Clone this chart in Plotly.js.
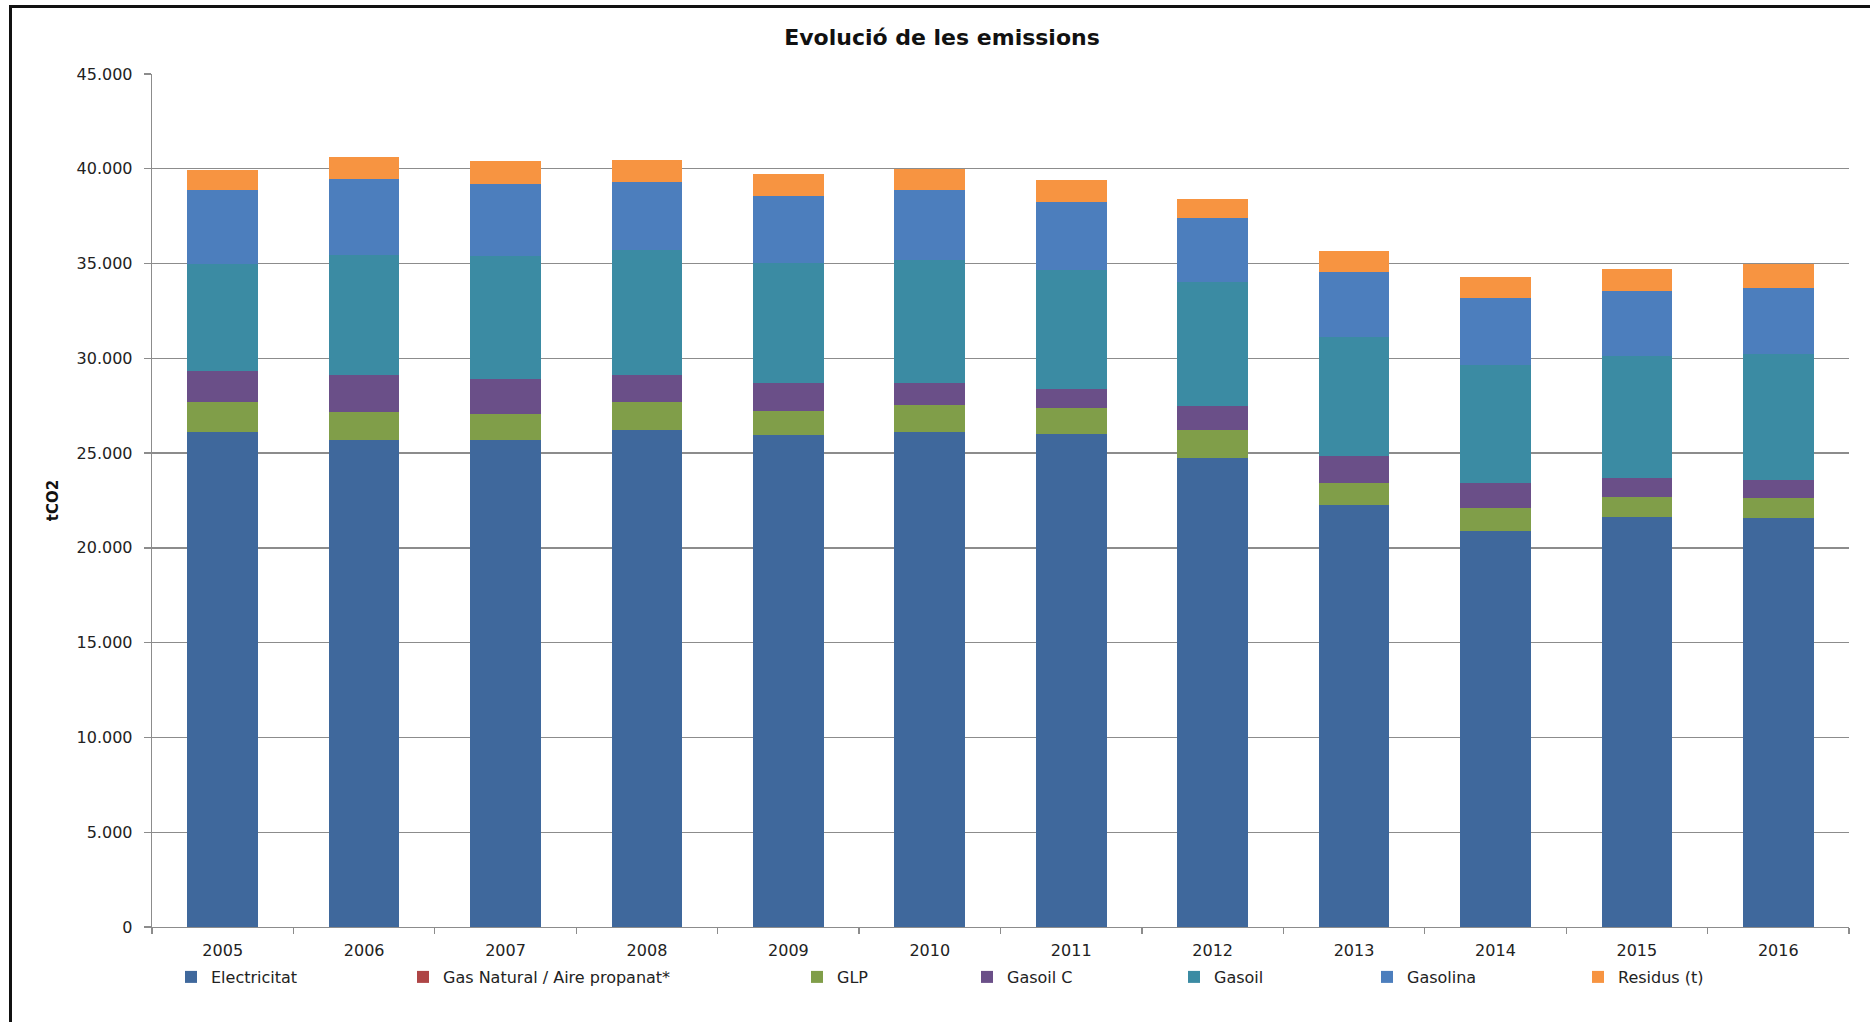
<!DOCTYPE html>
<html>
<head>
<meta charset="utf-8">
<script src="https://cdn.plot.ly/plotly-3.0.1.min.js"></script>
<style>
  html, body { margin: 0; padding: 0; background: #ffffff; overflow: hidden; }
  #frame { position: absolute; left: 9px; top: 5px; width: 1900px; height: 1100px; border: 3px solid #111; box-sizing: border-box; pointer-events: none; z-index: 5; }
  #chart { position: absolute; left: 0; top: 0; width: 1870px; height: 1022px; }
</style>
</head>
<body>
<div id="chart"></div>
<div id="frame"></div>
<script>
// Categories
const years = ['2005','2006','2007','2008','2009','2010','2011','2012','2013','2014','2015','2016'];

// Series values (tCO2)
const electricitat = [26140, 25690, 25690, 26230, 25930, 26130, 25990, 24750, 22270, 20880, 21650, 21560];
const gasNatural   = [0, 0, 0, 0, 0, 0, 0, 0, 0, 0, 0, 0];
const glp          = [1550, 1460, 1390, 1460, 1300, 1430, 1390, 1480, 1140, 1230, 1050, 1070];
const gasoilC      = [1620, 1990, 1830, 1440, 1460, 1140, 1000, 1230, 1460, 1320, 970, 950];
const gasoil       = [5670, 6290, 6480, 6600, 6340, 6510, 6300, 6550, 6270, 6240, 6460, 6640];
const gasolina     = [3890, 4050, 3790, 3570, 3520, 3650, 3570, 3380, 3390, 3500, 3430, 3480];
const residus      = [1090, 1160, 1230, 1180, 1160, 1110, 1140, 1000, 1110, 1110, 1140, 1300];

// Series names and colours
const seriesNames  = ['Electricitat', 'Gas Natural / Aire propanat*', 'GLP', 'Gasoil C', 'Gasoil', 'Gasolina', 'Residus (t)'];
const seriesValues = [electricitat, gasNatural, glp, gasoilC, gasoil, gasolina, residus];
const seriesColors = ['#3F689C', '#AE4546', '#809E49', '#6A4F88', '#3B8BA3', '#4C7EBD', '#F79441'];

// Legend marker centres (px in page)
const legendMarkerPx = [191, 423, 817, 987, 1194, 1387, 1598];

const W = 1870, H = 1022;
const mL = 152, mR = 21, mT = 74, mB = 95;
const plotW = W - mL - mR, plotH = H - mT - mB;

const traces = seriesNames.map((name, i) => ({
  type: 'bar',
  name: name,
  x: years,
  y: seriesValues[i],
  marker: { color: seriesColors[i], line: { width: 0 } },
  legend: i === 0 ? 'legend' : 'legend' + (i + 1),
  showlegend: true,
  hoverinfo: 'x+y+name'
}));

const legendFont = { family: 'DejaVu Sans, sans-serif', size: 16, color: '#222' };
const layout = {
  width: W, height: H,
  showlegend: true,
  margin: { l: mL, r: mR, t: mT, b: mB, pad: 0 },
  paper_bgcolor: '#ffffff',
  plot_bgcolor: '#ffffff',
  barmode: 'stack',
  bargap: 0.5,
  separators: ',.',
  font: { family: 'DejaVu Sans, sans-serif', size: 16, color: '#222' },
  title: {
    text: 'Evolució de les emissions',
    font: { family: 'DejaVu Sans, sans-serif', size: 22, color: '#111', weight: 'bold' },
    xref: 'container', yref: 'container',
    x: 942 / W, xanchor: 'center',
    y: 1 - 37 / H, yanchor: 'middle'
  },
  xaxis: {
    type: 'category',
    tickson: 'boundaries',
    ticks: 'outside', ticklen: 6, tickcolor: '#8c8c8c', tickwidth: 1.3,
    showline: true, linecolor: '#8c8c8c', linewidth: 1.3,
    showgrid: false,
    tickfont: { family: 'DejaVu Sans, sans-serif', size: 16, color: '#222' },
    ticklabelstandoff: 8,
    fixedrange: true
  },
  yaxis: {
    range: [0, 45000],
    tickvals: [0, 5000, 10000, 15000, 20000, 25000, 30000, 35000, 40000, 45000],
    tickformat: ',d',
    ticks: 'outside', ticklen: 7, tickcolor: '#8c8c8c', tickwidth: 1.3,
    showline: true, linecolor: '#8c8c8c', linewidth: 1.3,
    showgrid: true, gridcolor: '#8c8c8c', gridwidth: 1.3,
    zeroline: false,
    tickfont: { family: 'DejaVu Sans, sans-serif', size: 16, color: '#222' },
    ticklabelstandoff: 8,
    title: {
      text: 'tCO2',
      font: { family: 'DejaVu Sans, sans-serif', size: 15, color: '#111', weight: 'bold' },
      standoff: 14
    },
    fixedrange: true
  }
};

// One small legend per series, each placed where the reference puts it (y = 977 px from top)
legendMarkerPx.forEach((px, i) => {
  const key = i === 0 ? 'legend' : 'legend' + (i + 1);
  layout[key] = {
    visible: true,
    orientation: 'h',
    x: (px - 20 - mL) / plotW,
    xanchor: 'left',
    y: (H - mB - 977) / plotH,
    yanchor: 'middle',
    bgcolor: 'rgba(0,0,0,0)',
    borderwidth: 0,
    font: legendFont,
    itemwidth: 30,
    traceorder: 'normal'
  };
});

Plotly.newPlot('chart', traces, layout, { displayModeBar: false, staticPlot: true });
</script>
</body>
</html>
